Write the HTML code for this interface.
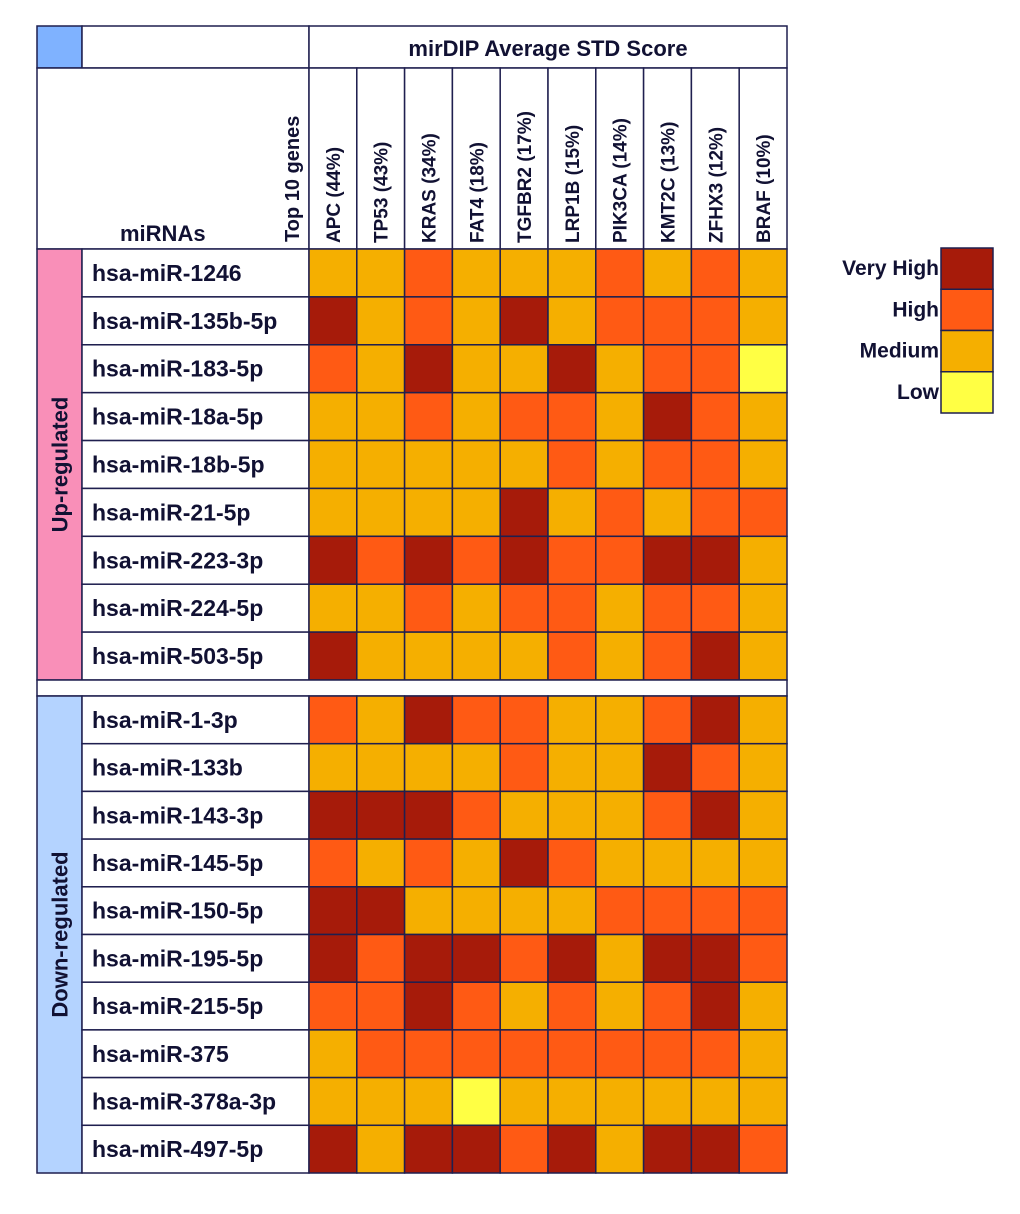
<!DOCTYPE html>
<html><head><meta charset="utf-8"><style>
body{margin:0;background:#fff;width:1020px;height:1209px;overflow:hidden}
svg text{font-family:"Liberation Sans",sans-serif;font-weight:bold;fill:#111133}
</style></head><body>
<svg id="chart" width="1020" height="1209" xmlns="http://www.w3.org/2000/svg"></svg>
<script>
const genes = ["APC (44%)","TP53 (43%)","KRAS (34%)","FAT4 (18%)","TGFBR2 (17%)","LRP1B (15%)","PIK3CA (14%)","KMT2C (13%)","ZFHX3 (12%)","BRAF (10%)"];
const upMirnas = ["hsa-miR-1246","hsa-miR-135b-5p","hsa-miR-183-5p","hsa-miR-18a-5p","hsa-miR-18b-5p","hsa-miR-21-5p","hsa-miR-223-3p","hsa-miR-224-5p","hsa-miR-503-5p"];
const downMirnas = ["hsa-miR-1-3p","hsa-miR-133b","hsa-miR-143-3p","hsa-miR-145-5p","hsa-miR-150-5p","hsa-miR-195-5p","hsa-miR-215-5p","hsa-miR-375","hsa-miR-378a-3p","hsa-miR-497-5p"];
// 3=Very High, 2=High, 1=Medium, 0=Low
const upScores = [
[1,1,2,1,1,1,2,1,2,1],
[3,1,2,1,3,1,2,2,2,1],
[2,1,3,1,1,3,1,2,2,0],
[1,1,2,1,2,2,1,3,2,1],
[1,1,1,1,1,2,1,2,2,1],
[1,1,1,1,3,1,2,1,2,2],
[3,2,3,2,3,2,2,3,3,1],
[1,1,2,1,2,2,1,2,2,1],
[3,1,1,1,1,2,1,2,3,1]];
const downScores = [
[2,1,3,2,2,1,1,2,3,1],
[1,1,1,1,2,1,1,3,2,1],
[3,3,3,2,1,1,1,2,3,1],
[2,1,2,1,3,2,1,1,1,1],
[3,3,1,1,1,1,2,2,2,2],
[3,2,3,3,2,3,1,3,3,2],
[2,2,3,2,1,2,1,2,3,1],
[1,2,2,2,2,2,2,2,2,1],
[1,1,1,0,1,1,1,1,1,1],
[3,1,3,3,2,3,1,3,3,2]];
const levelLabels = ["Low","Medium","High","Very High"];
const levelColors = ["#FFFF44","#F5AF00","#FF5A14","#A61B0A"];

const svg = document.getElementById('chart');
const NS = "http://www.w3.org/2000/svg";
const STROKE = "#1F1F4F";
function mk(tag, attrs, name, text){
  const e = document.createElementNS(NS, tag);
  for (const k in attrs) e.setAttribute(k, attrs[k]);
  
  
  if (text !== undefined) e.textContent = text;
  svg.appendChild(e); return e;
}
const L = 37, C1 = 82, C2 = 309, R = 787;
const colW = (R - C2) / genes.length;
const colX = i => C2 + i * colW;
const upTop = 249, upRowH = (680 - 249) / upMirnas.length;
const downTop = 696, downRowH = (1173 - 696) / downMirnas.length;

mk('rect',{x:L,y:26,width:C1-L,height:42,fill:"#7FB2FF",stroke:STROKE,'stroke-width':1.5},'corner-cell');
mk('rect',{x:C1,y:26,width:C2-C1,height:42,fill:"#fff",stroke:STROKE,'stroke-width':1.5},'blank-header-cell');
mk('rect',{x:C2,y:26,width:R-C2,height:42,fill:"#fff",stroke:STROKE,'stroke-width':1.5},'title-cell');
mk('text',{x:(C2+R)/2,y:56,'text-anchor':'middle','font-size':22},'table-title','mirDIP Average STD Score');
mk('rect',{x:L,y:68,width:C2-L,height:181,fill:"#fff",stroke:STROKE,'stroke-width':1.5},'label-header-cell');
mk('text',{x:120,y:241,'font-size':22},'mirnas-header','miRNAs');
mk('text',{transform:'translate(299,242) rotate(-90)','font-size':20},'top-genes-header','Top 10 genes');
genes.forEach((g,i)=>{
  mk('rect',{x:colX(i),y:68,width:colW,height:181,fill:"#fff",stroke:STROKE,'stroke-width':1.5},'gene-header-cell');
  mk('text',{transform:`translate(${colX(i)+colW/2+7},243) rotate(-90)`,'font-size':19},'gene-label',g);
});

function block(names, scores, top, rh, groupName, groupColor, key){
  mk('rect',{x:L,y:top,width:C1-L,height:rh*names.length,fill:groupColor,stroke:STROKE,'stroke-width':1.5},key+'-group-cell');
  const cy = top + rh*names.length/2;
  mk('text',{transform:`translate(${(L+C1)/2+8},${cy}) rotate(-90)`,'text-anchor':'middle','font-size':22},key+'-group-label',groupName);
  names.forEach((n,r)=>{
    const y = top + r*rh;
    mk('rect',{x:C1,y:y,width:C2-C1,height:rh,fill:"#fff",stroke:STROKE,'stroke-width':1.5},'mirna-cell');
    mk('text',{x:92,y:y+rh/2+8,'font-size':23},'mirna-label',n);
    scores[r].forEach((v,c)=>{
      mk('rect',{x:colX(c),y:y,width:colW,height:rh,fill:levelColors[v],stroke:STROKE,'stroke-width':1.5},'heatmap-cell');
    });
  });
}
block(upMirnas, upScores, upTop, upRowH, 'Up-regulated', '#F98FB8', 'up');
mk('rect',{x:L,y:680,width:R-L,height:16,fill:"#fff",stroke:STROKE,'stroke-width':1.5},'group-separator');
block(downMirnas, downScores, downTop, downRowH, 'Down-regulated', '#B4D3FF', 'down');

const lgTop = 248, lgH = 41.25;
for (let i = 3; i >= 0; i--) {
  const k = 3 - i;
  mk('rect',{x:941,y:lgTop+k*lgH,width:52,height:lgH,fill:levelColors[i],stroke:STROKE,'stroke-width':1.5},'legend-swatch');
  mk('text',{x:939,y:lgTop+k*lgH+27,'text-anchor':'end','font-size':21},'legend-label',levelLabels[i]);
}
</script>
</body></html>
